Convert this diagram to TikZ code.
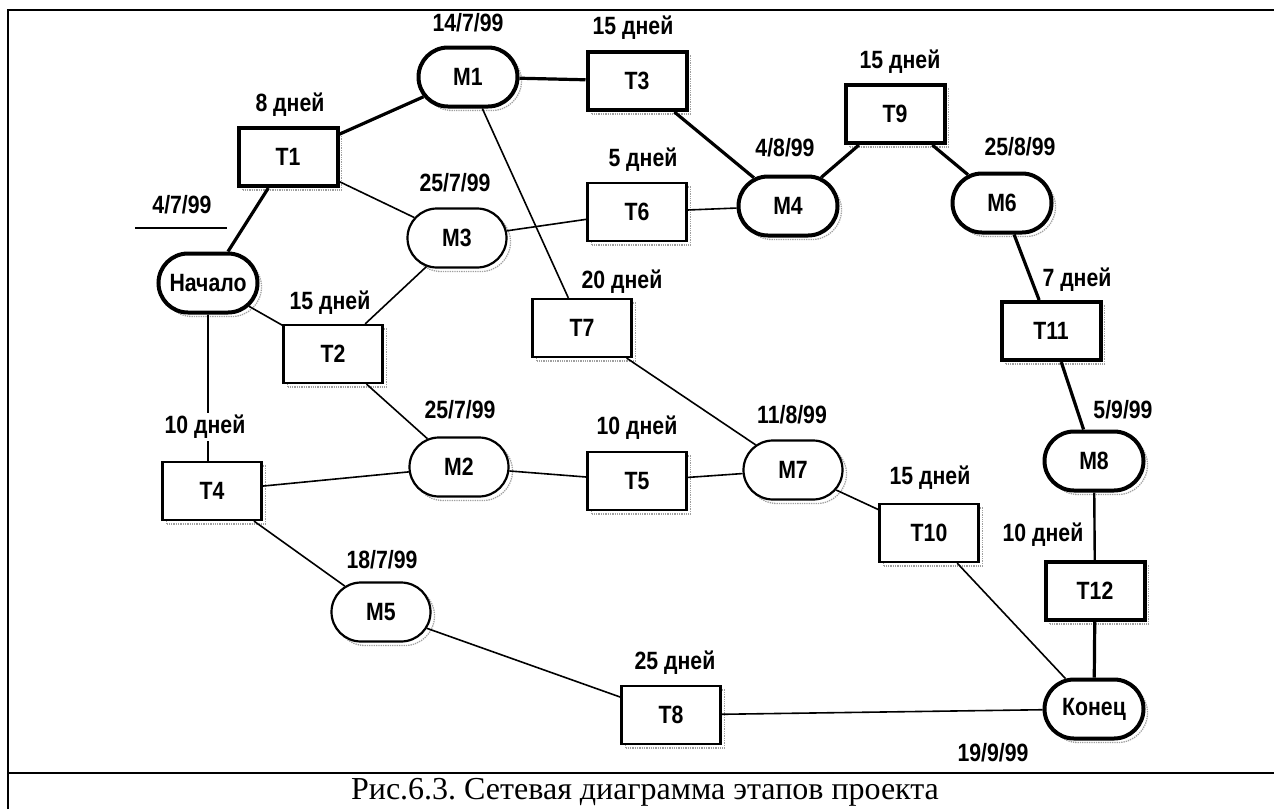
\documentclass[tikz,border=0pt]{standalone}
\usepackage{fontspec}
\setmainfont{Liberation Serif}
\newfontfamily\diagfont[FakeStretch=0.85]{Liberation Sans}
\usetikzlibrary{shapes.misc, shadows}
\frenchspacing

\begin{document}
\begin{tikzpicture}[x=1pt, y=-1pt,
    every node/.style={font=\diagfont\bfseries\fontsize{25}{25}\selectfont, inner sep=0pt},
    scanshadow/.style={drop shadow={fill=none, draw=black!75, densely dotted, line width=1.3pt, shadow xshift=4pt, shadow yshift=-4pt}},
    task/.style={rectangle, draw, fill=white, scanshadow, line width=2.2pt, minimum width=99pt, minimum height=58pt},
    milestone/.style={rounded rectangle, draw, fill=white, scanshadow, line width=2.2pt, minimum width=99pt, minimum height=59pt},
    crit/.style={line width=4pt},
    thinline/.style={line width=1.6pt},
    critline/.style={line width=3.2pt}]
    \useasboundingbox (0,0) rectangle (1274,809);
    % frame and caption line
    \draw[line width=1.5pt] (8,809) -- (8,10) -- (1274,10);
    \draw[line width=2pt] (8,773) -- (1274,773);
    % milestones
    \node[milestone, crit] (Start) at (208, 283) {Начало};
    \node[milestone, crit] (M1) at (468, 77) {M1};
    \node[milestone] (M2) at (459, 467) {M2};
    \node[milestone] (M3) at (457, 238) {M3};
    \node[milestone, crit] (M4) at (788, 206) {M4};
    \node[milestone] (M5) at (381, 612) {M5};
    \node[milestone, crit] (M6) at (1002, 203) {M6};
    \node[milestone] (M7) at (793, 470) {M7};
    \node[milestone, crit] (M8) at (1094, 461) {M8};
    \node[milestone, crit] (Fin) at (1094, 709) {Конец};
    % tasks
    \node[task, crit] (T1) at (288, 157) {T1};
    \node[task] (T2) at (333, 354) {T2};
    \node[task, crit] (T3) at (637, 81) {T3};
    \node[task] (T4) at (212, 491) {T4};
    \node[task] (T5) at (637, 481) {T5};
    \node[task] (T6) at (637, 212) {T6};
    \node[task] (T7) at (582, 328) {T7};
    \node[task] (T8) at (671, 715) {T8};
    \node[task, crit] (T9) at (895, 114) {T9};
    \node[task] (T10) at (929, 533) {T10};
    \node[task, crit] (T11) at (1051, 331) {T11};
    \node[task, crit] (T12) at (1095, 591) {T12};
    % critical path
    \draw[critline] (Start) -- (T1);
    \draw[critline] (T1) -- (M1);
    \draw[critline] (M1) -- (T3);
    \draw[critline] (T3) -- (M4);
    \draw[critline] (M4) -- (T9);
    \draw[critline] (T9) -- (M6);
    \draw[critline] (M6) -- (T11);
    \draw[critline] (T11) -- (M8);
    \draw[line width=2.4pt] (M8) -- (T12);
    \draw[critline] (T12) -- (Fin);
    % other links
    \draw[thinline] (T1) -- (M3);
    \draw[thinline] (Start) -- (T2);
    \draw[thinline] (T2) -- (M3);
    \draw[thinline] (M3) -- (T6);
    \draw[thinline] (T6) -- (M4);
    \draw[thinline] (M1) -- (T7);
    \draw[thinline] (T7) -- (M7);
    \draw[thinline] (Start) -- (Start |- T4.north);
    \draw[thinline] (T2) -- (M2);
    \draw[thinline] (T4) -- (M2);
    \draw[thinline] (M2) -- (T5);
    \draw[thinline] (T5) -- (M7);
    \draw[thinline] (M7) -- (T10);
    \draw[thinline] (T10) -- (Fin);
    \draw[thinline] (T4) -- (M5);
    \draw[thinline] (M5) -- (T8);
    \draw[thinline] (T8) -- (Fin);
    % dates and durations
    \node (dStart) at (182, 205) {4/7/99};
    \draw[line width=1.8pt] (135,228) -- (227,228);
    \node (dT1) at (290, 105) {8 дней};
    \node (dM1) at (468, 23) {14/7/99};
    \node (dT3) at (633, 28) {15 дней};
    \node (dM3) at (455, 183) {25/7/99};
    \node (dT6) at (643, 160) {5 дней};
    \node (dM4) at (785, 148) {4/8/99};
    \node (dT9) at (900, 62) {15 дней};
    \node (dM6) at (1020, 147) {25/8/99};
    \node (dT11) at (1077, 280) {7 дней};
    \node (dM8) at (1123, 410) {5/9/99};
    \node (dT12) at (1043, 535) {10 дней};
    \node (dFin) at (993, 753) {19/9/99};
    \node (dT10) at (930, 478) {15 дней};
    \node (dT7) at (622, 282) {20 дней};
    \node (dT2) at (330, 303) {15 дней};
    \node[fill=white, inner sep=2pt] (dT4) at (205, 427) {10 дней};
    \node (dM2) at (460, 410) {25/7/99};
    \node (dT5) at (637, 428) {10 дней};
    \node (dM7) at (792, 415) {11/8/99};
    \node (dM5) at (382, 560) {18/7/99};
    \node (dT8) at (675, 663) {25 дней};
    % caption
    \node[font=\rmfamily\fontsize{32}{32}\selectfont] (cap) at (645, 792) {Рис.6.3. Сетевая диаграмма этапов проекта};
\end{tikzpicture}
\end{document}
